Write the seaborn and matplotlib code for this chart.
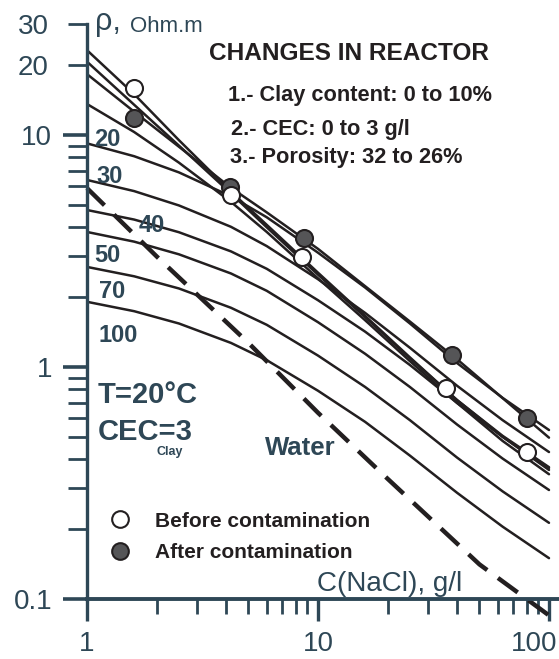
import matplotlib
matplotlib.use("Agg")
import matplotlib.pyplot as plt
from matplotlib.lines import Line2D
from matplotlib.transforms import ScaledTranslation
import pandas as pd
import seaborn as sns

# ---- data ----
# NaCl concentration (g/l) at which the model curves were read
conc = [1, 1.6, 2.5, 4.2, 6, 10, 16, 25, 40, 63, 100]

# rock resistivity curves (Ohm.m), ordered by value at C = 1 g/l
rho_c1 = [23.2, 15.0, 9.5, 5.7, 4.1, 2.55, 1.66, 1.10, 0.72, 0.50, 0.36]
rho_c2 = [20.7, 13.5, 9.0, 5.6, 4.0, 2.50, 1.64, 1.09, 0.72, 0.505, 0.37]
rho_c3 = [18.3, 12.6, 8.9, 5.92, 4.64, 3.23, 2.23, 1.57, 1.08, 0.734, 0.496]
rho_c4 = [13.6, 10.3, 7.6, 5.15, 3.82, 2.41, 1.59, 1.06, 0.70, 0.48, 0.345]
rho_c5 = [9.2, 8.1, 6.9, 5.44, 4.42, 3.11, 2.20, 1.54, 1.04, 0.736, 0.535]
rho_c6 = [6.4, 5.73, 4.97, 4.02, 3.32, 2.39, 1.71, 1.21, 0.83, 0.59, 0.43]
rho_c7 = [4.75, 4.32, 3.81, 3.15, 2.65, 1.94, 1.42, 1.02, 0.70, 0.50, 0.367]
rho_c8 = [3.82, 3.47, 3.06, 2.53, 2.13, 1.56, 1.14, 0.82, 0.565, 0.403, 0.295]
rho_c9 = [2.70, 2.46, 2.18, 1.80, 1.52, 1.12, 0.82, 0.59, 0.407, 0.291, 0.213]
rho_c10 = [1.91, 1.74, 1.54, 1.27, 1.07, 0.79, 0.58, 0.415, 0.287, 0.205, 0.150]
curves = [rho_c1, rho_c2, rho_c3, rho_c4, rho_c5,
          rho_c6, rho_c7, rho_c8, rho_c9, rho_c10]
curve_labels = ["20", "30", "40", "50", "70", "100"]

# water resistivity (dashed)
water_conc = [1, 2, 5, 10, 20, 50, 100]
water_rho = [5.9, 3.0, 1.27, 0.635, 0.33, 0.141, 0.085]

# reactor measurements
before_conc = [1.6, 4.2, 8.5, 36, 80]
before_rho = [15.9, 5.5, 2.98, 0.81, 0.43]
after_conc = [1.6, 4.15, 8.7, 38, 80]
after_rho = [11.8, 5.97, 3.6, 1.13, 0.60]

notes = ["1.- Clay content: 0 to 10%", "2.- CEC: 0 to 3 g/l",
         "3.- Porosity: 32 to 26%"]

x_major = [1, 10, 100]
x_minor = [2, 3, 4, 5, 6, 7, 8, 9, 20, 30, 40, 50, 60, 70, 80, 90]
y_major = [0.1, 1, 10]
y_minor = [0.2, 0.3, 0.4, 0.5, 0.6, 0.7, 0.8, 0.9,
           2, 3, 4, 5, 6, 7, 8, 9, 20, 30]

# ---- style ----
SLATE = "#2e4756"
INK = "#231f20"
GREY = "#555557"
sns.set_style("white")
plt.rcParams["font.family"] = ["Liberation Sans", "DejaVu Sans"]

W, H = 559, 659
fig = plt.figure(figsize=(W / 100, H / 100), dpi=100)
ax = fig.add_axes([87 / W, 60 / H, 472 / W, 574.7 / H])
ax.set_xscale("log")
ax.set_yscale("log")

df = pd.DataFrame([
    {"curve": i, "conc": c, "rho": r}
    for i, vals in enumerate(curves) for c, r in zip(conc, vals)
])
sns.lineplot(data=df, x="conc", y="rho", units="curve", estimator=None,
             color=INK, lw=1.8, legend=False, ax=ax)

ax.plot(water_conc, water_rho, color=INK, lw=3.2, dashes=(5.5, 3),
        clip_on=False)

# "after" first so the white "before" markers sit on top, as in the original
sns.scatterplot(x=after_conc, y=after_rho, color=GREY, edgecolor=INK,
                linewidth=1.5, s=150, zorder=5, ax=ax)
sns.scatterplot(x=before_conc, y=before_rho, color="white", edgecolor=INK,
                linewidth=1.5, s=150, zorder=6, ax=ax)

ax.set_xlim(1, 110.5)
ax.set_ylim(0.1, 30)
ax.set_xlabel("")
ax.set_ylabel("")

# ---- axes, ticks ----
sns.despine(ax=ax)
ax.spines["left"].set_color(SLATE)
ax.spines["left"].set_linewidth(2.4)
ax.spines["bottom"].set_color(SLATE)
ax.spines["bottom"].set_linewidth(2.8)

ax.set_xticks(x_major, [str(v) for v in x_major])
ax.set_xticks(x_minor, [""] * len(x_minor), minor=True)
ax.set_yticks(y_major, ["0.1", "1", "10"])
ax.set_yticks(y_minor, ["20" if v == 20 else "30" if v == 30 else ""
                        for v in y_minor], minor=True)

ax.tick_params(axis="both", which="both", direction="out", color=SLATE,
               labelcolor=SLATE, labelsize=20, left=True, bottom=True)
ax.tick_params(axis="x", which="major", length=16, width=2.4, pad=7)
ax.tick_params(axis="x", which="minor", length=11, width=2.0)
ax.tick_params(axis="y", which="major", length=17, width=2.6, pad=8)
ax.tick_params(axis="y", which="minor", length=13.5, width=2.0, pad=14)

# the "100" label sits left of its tick in the original
lab100 = ax.get_xticklabels()[2]
lab100.set_transform(lab100.get_transform()
                     + ScaledTranslation(-0.15, 0, fig.dpi_scale_trans))


def fx(x):
    return x / W


def fy(y):
    return 1 - y / H


# axis titles
fig.text(fx(95), fy(30), "ρ,", fontsize=22, color=SLATE, va="baseline")
fig.text(fx(130), fy(32), "Ohm.m", fontsize=16, color=SLATE, va="baseline")
fig.text(fx(317), fy(591), "C(NaCl), g/l", fontsize=20, color=SLATE,
         va="baseline")

# reactor notes
fig.text(fx(209), fy(53), "CHANGES IN REACTOR", fontsize=17.6,
         fontweight="bold", color=INK, va="center")
for txt, (x, y) in zip(notes, [(228, 95), (231, 129), (230, 157)]):
    fig.text(fx(x), fy(y), txt, fontsize=15.7, fontweight="bold",
             color=INK, va="center")

# curve labels
label_pos = [(107, 140), (110, 177), (152, 225), (107, 255), (112, 292),
             (118, 335)]
for txt, (x, y) in zip(curve_labels, label_pos):
    fig.text(fx(x), fy(y), txt, fontsize=17, fontweight="bold",
             color=SLATE, ha="center", va="center")

fig.text(fx(98), fy(395), "T=20°C", fontsize=21, fontweight="bold",
         color=SLATE, va="center")
fig.text(fx(98), fy(432), "CEC=3", fontsize=21, fontweight="bold",
         color=SLATE, va="center")
fig.text(fx(170), fy(452), "Clay", fontsize=9, fontweight="bold",
         color=SLATE, ha="center", va="center")
fig.text(fx(265), fy(448), "Water", fontsize=18.5, fontweight="bold",
         color=SLATE, va="center")

# legend
handles = [
    Line2D([], [], marker="o", ls="none", mfc="white", mec=INK, mew=1.5,
           ms=12, label="Before contamination"),
    Line2D([], [], marker="o", ls="none", mfc=GREY, mec=INK, mew=1.5,
           ms=12, label="After contamination"),
]
leg = ax.legend(handles=handles, loc="upper left",
                bbox_to_anchor=(0.048, 0.152), frameon=False,
                handlelength=1.0, handletextpad=1.18, labelspacing=0.59,
                borderpad=0, borderaxespad=0,
                prop={"size": 15, "weight": "bold"})
for t in leg.get_texts():
    t.set_color(INK)

fig.savefig("out.png", dpi=100)
